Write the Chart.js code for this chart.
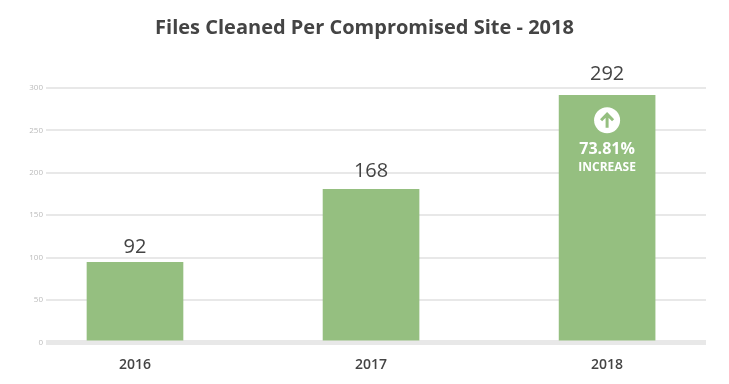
<!DOCTYPE html>
<html>
<head>
<meta charset="utf-8">
<title>Files Cleaned Per Compromised Site - 2018</title>
<script src="https://cdn.jsdelivr.net/npm/chart.js@4"></script>
<style>
  html, body { margin: 0; padding: 0; background: #fff; }
  canvas { display: block; }
</style>
</head>
<body>
<canvas id="chart" width="729" height="384"></canvas>
<script>
const years = [2016, 2017, 2018];
// bar heights as drawn, the printed labels do not always agree with them
const barValues = [94.5, 180.5, 291.5];
const valueLabels = ['92', '168', '292'];
const yTicks = [0, 50, 100, 150, 200, 250, 300];
const titleText = 'Files Cleaned Per Compromised Site - 2018';
const badgeLines = ['73.81%', 'INCREASE'];

const green = '#95bf80';
const fontName = '"Open Sans", sans-serif';

const barAnnotations = {
  id: 'barAnnotations',
  afterDatasetsDraw(chart) {
    const ctx = chart.ctx;
    const bars = chart.getDatasetMeta(0).data;
    ctx.save();
    ctx.textAlign = 'center';
    ctx.textBaseline = 'middle';

    // numbers above the bars
    ctx.fillStyle = '#444';
    ctx.font = '20px ' + fontName;
    bars.forEach((bar, i) => {
      ctx.fillText(valueLabels[i], bar.x, bar.y - (15 + 3 * i));
    });

    // badge inside the last bar
    const last = bars[bars.length - 1];
    const cy = last.y + 25;
    ctx.fillStyle = '#fff';
    ctx.beginPath();
    ctx.arc(last.x, cy, 13, 0, Math.PI * 2);
    ctx.fill();

    ctx.strokeStyle = green;
    ctx.lineWidth = 3;
    ctx.beginPath();
    ctx.moveTo(last.x, cy + 7.5);
    ctx.lineTo(last.x, cy - 6);
    ctx.moveTo(last.x - 6, cy);
    ctx.lineTo(last.x, cy - 6);
    ctx.lineTo(last.x + 6, cy);
    ctx.stroke();

    ctx.fillStyle = '#fff';
    ctx.font = 'bold 16px ' + fontName;
    ctx.fillText(badgeLines[0], last.x, last.y + 54);
    ctx.font = 'bold 12px ' + fontName;
    ctx.fillText(badgeLines[1], last.x, last.y + 72);
    ctx.restore();
  }
};

new Chart(document.getElementById('chart'), {
  type: 'bar',
  data: {
    labels: years,
    datasets: [{
      data: barValues,
      backgroundColor: green,
      base: 2.5,
      barThickness: 96
    }]
  },
  plugins: [barAnnotations],
  options: {
    responsive: false,
    animation: false,
    layout: { padding: { left: 23, right: 23 } },
    plugins: {
      legend: { display: false },
      tooltip: { enabled: false },
      title: {
        display: true,
        text: titleText,
        color: '#444',
        font: { family: fontName, size: 20, weight: '700' },
        padding: { top: 16, bottom: 48 }
      }
    },
    scales: {
      x: {
        type: 'linear',
        offset: false,
        min: 2015.623,
        max: 2018.419,
        afterFit(scale) { scale.height = 41.6; },
        afterBuildTicks(scale) { scale.ticks = years.map(v => ({ value: v })); },
        grid: { display: false },
        border: { display: false },
        ticks: {
          color: '#444',
          padding: 6,
          maxRotation: 0,
          font: { family: fontName, size: 14, weight: '600' },
          callback: v => String(v)
        }
      },
      y: {
        min: yTicks[0],
        max: yTicks[yTicks.length - 1],
        afterFit(scale) { scale.width = 23; },
        afterBuildTicks(scale) { scale.ticks = yTicks.map(v => ({ value: v })); },
        border: { display: false },
        grid: {
          color: '#e8e8e8',
          drawTicks: false,
          lineWidth: c => (c.tick.value === 0 ? 5 : 2)
        },
        ticks: {
          color: '#bbb',
          padding: 3,
          font: { family: fontName, size: 8 }
        }
      }
    }
  }
});
</script>
</body>
</html>
